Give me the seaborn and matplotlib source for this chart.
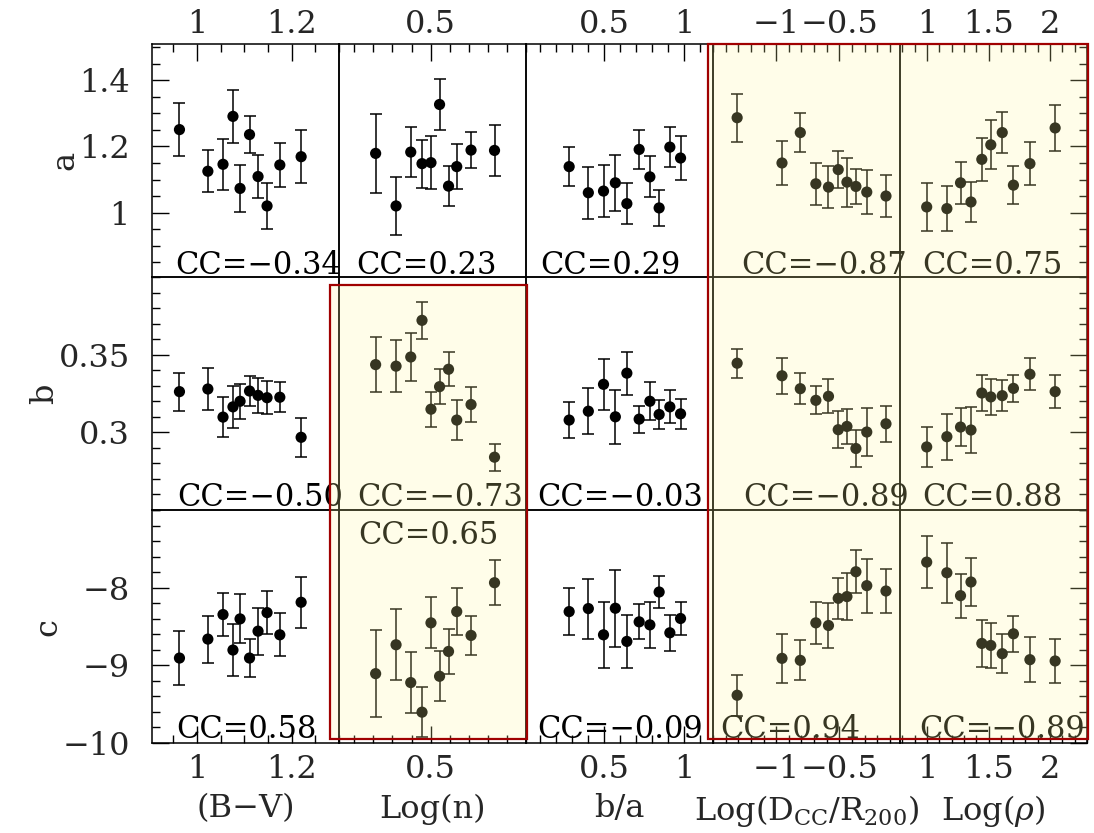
import numpy as np
import pandas as pd
import matplotlib
matplotlib.use("Agg")
import matplotlib.pyplot as plt
import seaborn as sns
from matplotlib.ticker import FixedLocator, MultipleLocator, NullFormatter
from matplotlib.patches import Rectangle

# ---------------- data ----------------
x_bv = [0.963, 1.023, 1.055, 1.076, 1.091, 1.111, 1.129, 1.148, 1.175, 1.220]
x_logn = [0.212, 0.319, 0.396, 0.455, 0.502, 0.547, 0.594, 0.637, 0.712, 0.835]
x_ba = [0.280, 0.400, 0.495, 0.569, 0.641, 0.718, 0.785, 0.843, 0.910, 0.977]
x_dcc = [-1.309, -0.954, -0.809, -0.686, -0.586, -0.509, -0.440, -0.369, -0.283, -0.131]
x_rho = [0.997, 1.161, 1.272, 1.357, 1.445, 1.518, 1.611, 1.702, 1.836, 2.041]

a_bv = [1.251, 1.125, 1.146, 1.291, 1.073, 1.236, 1.109, 1.020, 1.144, 1.169]
a_bv_err = [0.081, 0.064, 0.077, 0.081, 0.072, 0.057, 0.064, 0.069, 0.067, 0.080]
a_logn = [1.179, 1.020, 1.183, 1.148, 1.151, 1.327, 1.080, 1.139, 1.189, 1.188]
a_logn_err = [0.120, 0.087, 0.075, 0.073, 0.080, 0.076, 0.060, 0.068, 0.055, 0.078]
a_ba = [1.139, 1.060, 1.065, 1.090, 1.027, 1.191, 1.108, 1.014, 1.198, 1.165]
a_ba_err = [0.060, 0.078, 0.079, 0.084, 0.062, 0.060, 0.062, 0.055, 0.060, 0.067]
a_dcc = [1.287, 1.150, 1.242, 1.087, 1.077, 1.130, 1.092, 1.079, 1.062, 1.050]
a_dcc_err = [0.073, 0.067, 0.059, 0.063, 0.063, 0.056, 0.074, 0.052, 0.067, 0.063]
a_rho = [1.017, 1.012, 1.090, 1.032, 1.161, 1.205, 1.242, 1.083, 1.148, 1.256]
a_rho_err = [0.072, 0.069, 0.063, 0.060, 0.065, 0.074, 0.061, 0.058, 0.065, 0.069]

b_bv = [0.3262, 0.3279, 0.3098, 0.3164, 0.3200, 0.3266, 0.3238, 0.3223, 0.3226, 0.2968]
b_bv_err = [0.0123, 0.0135, 0.0130, 0.0136, 0.0113, 0.0098, 0.0114, 0.0106, 0.0098, 0.0124]
b_logn = [0.3436, 0.3426, 0.3485, 0.3721, 0.3149, 0.3294, 0.3406, 0.3079, 0.3179, 0.2840]
b_logn_err = [0.0179, 0.0169, 0.0153, 0.0117, 0.0113, 0.0114, 0.0110, 0.0130, 0.0115, 0.0087]
b_ba = [0.3079, 0.3136, 0.3309, 0.3100, 0.3381, 0.3085, 0.3200, 0.3115, 0.3164, 0.3119]
b_ba_err = [0.0116, 0.0147, 0.0164, 0.0174, 0.0138, 0.0087, 0.0123, 0.0092, 0.0106, 0.0097]
b_dcc = [0.3445, 0.3364, 0.3281, 0.3206, 0.3232, 0.3017, 0.3038, 0.2896, 0.3002, 0.3055]
b_dcc_err = [0.0094, 0.0116, 0.0098, 0.0090, 0.0110, 0.0120, 0.0112, 0.0120, 0.0154, 0.0116]
b_rho = [0.2906, 0.2972, 0.3034, 0.3015, 0.3253, 0.3228, 0.3236, 0.3283, 0.3374, 0.3262]
b_rho_err = [0.0127, 0.0149, 0.0120, 0.0150, 0.0115, 0.0115, 0.0100, 0.0089, 0.0104, 0.0106]

c_bv = [-8.906, -8.662, -8.346, -8.803, -8.402, -8.906, -8.560, -8.321, -8.607, -8.188]
c_bv_err = [0.353, 0.303, 0.280, 0.338, 0.316, 0.241, 0.303, 0.278, 0.276, 0.329]
c_logn = [-9.107, -8.735, -9.222, -9.603, -8.453, -9.141, -8.821, -8.308, -8.615, -7.936]
c_logn_err = [0.558, 0.457, 0.393, 0.323, 0.327, 0.323, 0.286, 0.299, 0.256, 0.286]
c_ba = [-8.308, -8.269, -8.607, -8.265, -8.692, -8.440, -8.479, -8.056, -8.581, -8.397]
c_ba_err = [0.299, 0.387, 0.425, 0.498, 0.344, 0.226, 0.299, 0.209, 0.235, 0.218]
c_dcc = [-9.385, -8.910, -8.936, -8.453, -8.487, -8.137, -8.115, -7.795, -7.974, -8.043]
c_dcc_err = [0.265, 0.316, 0.256, 0.271, 0.284, 0.265, 0.299, 0.274, 0.346, 0.286]
c_rho = [-7.671, -7.808, -8.103, -7.927, -8.718, -8.744, -8.850, -8.594, -8.927, -8.944]
c_rho_err = [0.338, 0.389, 0.284, 0.314, 0.299, 0.286, 0.248, 0.235, 0.293, 0.286]

cc_a = ["−0.34", "0.23", "0.29", "−0.87", "0.75"]
cc_b = ["−0.50", "−0.73", "−0.03", "−0.89", "0.88"]
cc_c = ["0.58", "0.65", "−0.09", "0.94", "−0.89"]

col_labels = ["(B−V)", "Log(n)", "b/a",
              r"Log(D$_{\mathrm{CC}}$/R$_{200}$)", r"Log($\rho$)"]
row_labels = ["a", "b", "c"]

col_ticks = [[1.0, 1.2], [0.5], [0.5, 1.0], [-1.0, -0.5], [1.0, 1.5, 2.0]]
col_ticklabels = [["1", "1.2"], ["0.5"], ["0.5", "1"], ["−1", "−0.5"], ["1", "1.5", "2"]]
row_ticks = [[1.0, 1.2, 1.4], [0.30, 0.35], [-10, -9, -8]]
row_ticklabels = [["1", "1.2", "1.4"], ["0.3", "0.35"], ["−10", "−9", "−8"]]

# ---------------- styling / layout ----------------
sns.set_theme(style="ticks")
plt.rcParams["font.family"] = ["DejaVu Serif"]
plt.rcParams["mathtext.fontset"] = "dejavuserif"
plt.rcParams["font.size"] = 23

xs = [x_bv, x_logn, x_ba, x_dcc, x_rho]
ys = [[a_bv, a_logn, a_ba, a_dcc, a_rho],
      [b_bv, b_logn, b_ba, b_dcc, b_rho],
      [c_bv, c_logn, c_ba, c_dcc, c_rho]]
es = [[a_bv_err, a_logn_err, a_ba_err, a_dcc_err, a_rho_err],
      [b_bv_err, b_logn_err, b_ba_err, b_dcc_err, b_rho_err],
      [c_bv_err, c_logn_err, c_ba_err, c_dcc_err, c_rho_err]]
ccs = [cc_a, cc_b, cc_c]

xlims = [(0.905, 1.30), (0.02, 1.0), (0.01, 1.18), (-1.50, -0.02), (0.78, 2.30)]
ylims = [(0.805, 1.51), (0.25, 0.40), (-10.0, -7.0)]
xminor = [0.05, 0.1, 0.1, 0.1, 0.1]
yminor = [0.05, 0.01, 0.2]

W, H = 1094, 833
fig = plt.figure(figsize=(W / 100, H / 100), dpi=100)
fig.patch.set_facecolor("white")
gs = fig.add_gridspec(3, 5, left=152 / W, right=1087 / W,
                      top=1 - 44 / H, bottom=1 - 743 / H,
                      wspace=0, hspace=0)

# CC text offsets (pixels from panel left) and vertical positions (axes frac)
cc_dx = [[23, 17, 14, 28, 22], [25, 18, 11, 30, 22], [24, 19, 11, 7, 19]]
cc_y = [[0.013] * 5, [0.017] * 5, [0.02, 0.855, 0.02, 0.02, 0.02]]

for r in range(3):
    for c in range(5):
        ax = fig.add_subplot(gs[r, c])
        ax.set_facecolor("none")
        df = pd.DataFrame({"x": xs[c], "y": ys[r][c], "e": es[r][c]})
        ax.errorbar(df["x"], df["y"], yerr=df["e"], fmt="none", ecolor="black",
                    elinewidth=1.1, capsize=4.6, capthick=1.1, zorder=2)
        sns.scatterplot(data=df, x="x", y="y", ax=ax, color="black", s=65,
                        edgecolor="none", linewidth=0, zorder=3, legend=False)
        ax.set_xlim(*xlims[c])
        ax.set_ylim(*ylims[r])
        ax.xaxis.set_major_locator(FixedLocator(col_ticks[c]))
        ax.set_xticklabels(col_ticklabels[c])
        ax.xaxis.set_minor_locator(MultipleLocator(xminor[c]))
        ax.yaxis.set_major_locator(FixedLocator(row_ticks[r]))
        ax.set_yticklabels(row_ticklabels[r])
        ax.yaxis.set_minor_locator(MultipleLocator(yminor[r]))
        ax.xaxis.set_minor_formatter(NullFormatter())
        ax.yaxis.set_minor_formatter(NullFormatter())
        for sp in ax.spines.values():
            sp.set_linewidth(1.1)
            sp.set_color("black")
            sp.set_visible(True)
        top_on = r == 0
        bot_on = r == 2
        left_on = c == 0
        right_on = c == 4
        xpad = 3 if top_on else 8
        for which, ln in (("major", 12), ("minor", 5.8)):
            ax.tick_params(axis="x", which=which, direction="in", length=ln,
                           width=1.0, color="black", top=top_on, bottom=bot_on,
                           labeltop=top_on, labelbottom=bot_on, pad=xpad,
                           labelsize=23)
            ax.tick_params(axis="y", which=which, direction="in", length=ln,
                           width=1.0, color="black", left=left_on, right=right_on,
                           labelleft=left_on, labelright=False, pad=16,
                           labelsize=23)
        ax.set_xlabel(col_labels[c] if bot_on else "", fontsize=23, labelpad=6)
        ax.set_ylabel(row_labels[r] if left_on else "", fontsize=23, labelpad=-1)
        ax.text(cc_dx[r][c] / 187.0, cc_y[r][c], "CC=" + ccs[r][c],
                transform=ax.transAxes, ha="left", va="baseline",
                fontsize=22, color="black", clip_on=False, zorder=5)


def px_rect(x0, y0, x1, y1, **kw):
    return Rectangle((x0 / W, 1 - y1 / H), (x1 - x0) / W, (y1 - y0) / H,
                     transform=fig.transFigure, **kw)


for (x0, y0, x1, y1) in [(708, 44, 1088, 739), (330, 285, 527, 739)]:
    fig.add_artist(px_rect(x0, y0, x1, y1, facecolor=(1.0, 0.98, 0.62),
                           edgecolor="none", alpha=0.22, zorder=50))
    fig.add_artist(px_rect(x0, y0, x1, y1, facecolor="none",
                           edgecolor="#a00000", linewidth=1.6, zorder=51))

fig.savefig("out.png", dpi=100, facecolor="white")
